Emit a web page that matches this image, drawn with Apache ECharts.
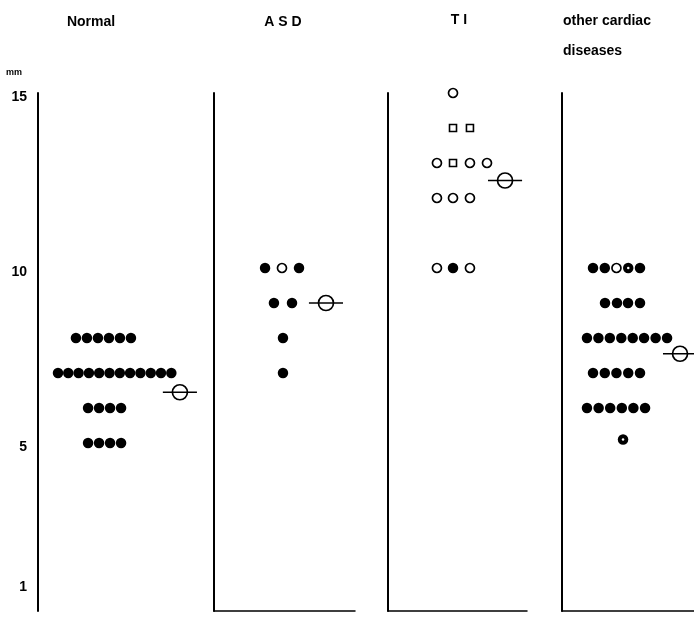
<!DOCTYPE html>
<html>
<head>
<meta charset="utf-8">
<script src="https://cdn.jsdelivr.net/npm/echarts@6/dist/echarts.min.js"></script>
<style>
  html, body { margin: 0; padding: 0; background: #fff; }
  #main { width: 694px; height: 617px; }
</style>
</head>
<body>
<div id="main"></div>
<script>
// groups and axis ticks
const groupNames = ['Normal', 'A S D', 'T I', 'other cardiac\ndiseases']
const yTicks = [1, 5, 10, 15]
const yUnit = 'mm'

// each point is [column, mm]; a column is one dot width
const normalFilled = [
  [3.45, 8], [4.45, 8], [5.45, 8], [6.45, 8], [7.45, 8], [8.45, 8],
  [1.82, 7], [2.75, 7], [3.69, 7], [4.63, 7], [5.56, 7], [6.5, 7],
  [7.44, 7], [8.37, 7], [9.31, 7], [10.25, 7], [11.18, 7], [12.12, 7],
  [4.55, 6], [5.55, 6], [6.55, 6], [7.55, 6],
  [4.55, 5], [5.55, 5], [6.55, 5], [7.55, 5]
]
const normalMean = [12.9, 6.45]

const asdFilled = [[4.64, 10], [7.73, 10], [5.45, 9], [7.09, 9], [6.27, 8], [6.27, 7]]
const asdOpen = [[6.18, 10]]
const asdMean = [10.18, 9.0]

const tiFilled = [[5.91, 10]]
const tiOpen = [
  [5.91, 15],
  [4.45, 13], [7.45, 13], [9.0, 13],
  [4.45, 12], [5.91, 12], [7.45, 12],
  [4.45, 10], [7.45, 10]
]
const tiSquare = [[5.91, 14], [7.45, 14], [5.91, 13]]
const tiMean = [10.64, 12.5]

const otherFilled = [
  [2.82, 10], [3.89, 10], [7.09, 10],
  [3.91, 9], [5.0, 9], [6.0, 9], [7.09, 9],
  [2.27, 8], [3.31, 8], [4.35, 8], [5.39, 8], [6.43, 8], [7.46, 8], [8.51, 8], [9.55, 8],
  [2.82, 7], [3.89, 7], [4.95, 7], [6.02, 7], [7.09, 7],
  [2.27, 6], [3.33, 6], [4.38, 6], [5.44, 6], [6.49, 6], [7.55, 6]
]
const otherOpen = [[4.95, 10]]
const otherDotted = [[6.02, 10], [5.55, 5.1]]
const otherMean = [10.73, 7.55]

const groups = [
  { filled: normalFilled, open: [], square: [], dotted: [], mean: normalMean },
  { filled: asdFilled, open: asdOpen, square: [], dotted: [], mean: asdMean },
  { filled: tiFilled, open: tiOpen, square: tiSquare, dotted: [], mean: tiMean },
  { filled: otherFilled, open: otherOpen, square: [], dotted: otherDotted, mean: otherMean }
]

// panel layout (px)
const panels = [
  { left: 38, width: 175, base: false },
  { left: 214, width: 141, base: true },
  { left: 388, width: 139, base: true },
  { left: 562, width: 132, base: true }
]
const colPx = 11
const gridTop = 93
const gridHeight = 518
const yMin = 0.2
const yMax = 15
const halfBar = 1.55

const font = 'Liberation Sans, Arial, sans-serif'

const chart = echarts.init(document.getElementById('main'), null, { renderer: 'canvas' })

const grid = panels.map(p => ({
  left: p.left, top: gridTop, width: p.width, height: gridHeight, containLabel: false
}))

const xAxis = panels.map((p, i) => ({
  type: 'value',
  gridIndex: i,
  min: 0,
  max: p.width / colPx,
  axisLine: { show: p.base, onZero: false, lineStyle: { color: '#000', width: 1.5 } },
  axisTick: { show: false },
  axisLabel: { show: false },
  splitLine: { show: false }
}))

const yAxis = panels.map((p, i) => ({
  type: 'value',
  gridIndex: i,
  min: yMin,
  max: yMax,
  name: i === 0 ? yUnit : '',
  nameLocation: 'end',
  nameGap: 20,
  nameTextStyle: {
    color: '#000', fontSize: 9, fontWeight: 'bold', fontFamily: font,
    align: 'right', verticalAlign: 'middle', padding: [0, 16, 0, 0]
  },
  axisLine: { show: true, lineStyle: { color: '#000', width: 2 } },
  axisTick: { show: false },
  splitLine: { show: false },
  axisLabel: {
    show: i === 0,
    customValues: yTicks,
    color: '#000',
    fontSize: 14,
    fontWeight: 'bold',
    fontFamily: font,
    margin: 11,
    verticalAlign: 'top',
    lineHeight: 8
  }
}))

const series = []
groups.forEach((g, i) => {
  series.push({
    type: 'scatter', xAxisIndex: i, yAxisIndex: i,
    symbol: 'circle', symbolSize: 10.5,
    itemStyle: { color: '#000', opacity: 1 },
    data: g.filled.concat(g.dotted),
    silent: true
  })
  if (g.dotted.length) {
    series.push({
      type: 'scatter', xAxisIndex: i, yAxisIndex: i, z: 3,
      symbol: 'circle', symbolSize: 2.5,
      itemStyle: { color: '#fff', opacity: 1 },
      data: g.dotted,
      silent: true
    })
  }
  if (g.open.length) {
    series.push({
      type: 'scatter', xAxisIndex: i, yAxisIndex: i,
      symbol: 'circle', symbolSize: 9,
      itemStyle: { color: '#fff', borderColor: '#000', borderWidth: 1.7, opacity: 1 },
      data: g.open,
      silent: true
    })
  }
  if (g.square.length) {
    series.push({
      type: 'scatter', xAxisIndex: i, yAxisIndex: i,
      symbol: 'rect', symbolSize: 7,
      itemStyle: { color: '#fff', borderColor: '#000', borderWidth: 1.6, opacity: 1 },
      data: g.square,
      silent: true
    })
  }
  // mean: open circle crossed by a short bar
  series.push({
    type: 'scatter', xAxisIndex: i, yAxisIndex: i,
    symbol: 'circle', symbolSize: 15,
    itemStyle: { color: '#fff', borderColor: '#000', borderWidth: 1.7, opacity: 1 },
    data: [g.mean],
    silent: true
  })
  series.push({
    type: 'line', xAxisIndex: i, yAxisIndex: i, z: 4,
    symbol: 'none',
    lineStyle: { color: '#000', width: 1.5 },
    data: [[g.mean[0] - halfBar, g.mean[1]], [g.mean[0] + halfBar, g.mean[1]]],
    silent: true
  })
})

const titleFont = 'bold 14px ' + font
const graphic = [
  { type: 'text', x: 91, y: 22, style: { text: groupNames[0], align: 'center', verticalAlign: 'middle', font: titleFont, fill: '#000' } },
  { type: 'text', x: 283, y: 22, style: { text: groupNames[1], align: 'center', verticalAlign: 'middle', font: titleFont, fill: '#000' } },
  { type: 'text', x: 459, y: 20, style: { text: groupNames[2], align: 'center', verticalAlign: 'middle', font: titleFont, fill: '#000' } },
  { type: 'text', x: 563, y: 6, style: { text: groupNames[3], align: 'left', verticalAlign: 'top', font: titleFont, lineHeight: 30, fill: '#000' } }
]

chart.setOption({
  backgroundColor: '#fff',
  animation: false,
  grid: grid,
  xAxis: xAxis,
  yAxis: yAxis,
  series: series,
  graphic: graphic
})
</script>
</body>
</html>
